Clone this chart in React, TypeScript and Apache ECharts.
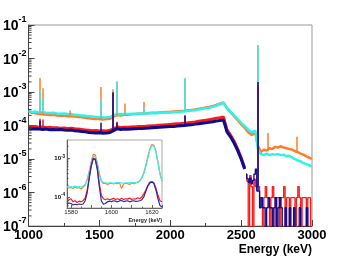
import React, { useEffect, useRef } from "react";
import * as echarts from "echarts";

// ---------- main spectrum: continuum grid 1000..2600 keV (25 keV steps) ----------
const contE: number[] = Array.from({ length: 65 }, (_, i) => 1000 + 25 * i);
const lowE: number[] = Array.from({ length: 62 }, (_, i) => 1000 + 25 * i); // 1000..2525
const upTailE: number[] = Array.from({ length: 20 }, (_, i) => 2620 + 20 * i); // 2620..3000
const lowTailE: number[] = Array.from({ length: 47 }, (_, i) => 2535 + 10 * i); // 2535..2995

const orangeCont = [
  2.6e-4, 2.4e-4, 2.3e-4, 2.2e-4, 2.15e-4, 2.1e-4, 2.05e-4, 2.1e-4, 2.0e-4, 1.95e-4,
  2.0e-4, 1.9e-4, 1.9e-4, 1.85e-4, 1.8e-4, 1.75e-4, 1.7e-4, 1.65e-4, 1.6e-4, 1.55e-4,
  1.55e-4, 1.5e-4, 1.55e-4, 1.6e-4, 1.85e-4, 2.05e-4, 2.0e-4, 2.1e-4, 2.1e-4, 2.15e-4,
  2.2e-4, 2.25e-4, 2.3e-4, 2.3e-4, 2.35e-4, 2.4e-4, 2.4e-4, 2.45e-4, 2.5e-4, 2.55e-4,
  2.55e-4, 2.6e-4, 2.65e-4, 2.7e-4, 2.75e-4, 2.85e-4, 2.9e-4, 3.0e-4, 3.15e-4, 3.25e-4,
  3.45e-4, 3.6e-4, 3.8e-4, 4.1e-4, 4.5e-4, 4.9e-4, 3.3e-4, 2.5e-4, 1.9e-4, 1.45e-4,
  1.1e-4, 8.5e-5, 6.3e-5, 5.2e-5, 6.0e-5,
];
const cyanCont = [
  2.7e-4, 2.55e-4, 2.6e-4, 2.45e-4, 2.5e-4, 2.4e-4, 2.35e-4, 2.4e-4, 2.3e-4, 2.25e-4,
  2.3e-4, 2.2e-4, 2.15e-4, 2.1e-4, 2.05e-4, 2.0e-4, 1.95e-4, 1.9e-4, 1.85e-4, 1.8e-4,
  1.8e-4, 1.72e-4, 1.75e-4, 1.8e-4, 2.0e-4, 2.2e-4, 2.15e-4, 2.2e-4, 2.2e-4, 2.25e-4,
  2.2e-4, 2.3e-4, 2.25e-4, 2.3e-4, 2.3e-4, 2.35e-4, 2.3e-4, 2.4e-4, 2.4e-4, 2.45e-4,
  2.45e-4, 2.5e-4, 2.55e-4, 2.55e-4, 2.65e-4, 2.7e-4, 2.8e-4, 2.85e-4, 3.0e-4, 3.1e-4,
  3.3e-4, 3.4e-4, 3.6e-4, 3.9e-4, 4.3e-4, 4.7e-4, 3.3e-4, 2.6e-4, 2.0e-4, 1.55e-4,
  1.2e-4, 9.5e-5, 7.5e-5, 6.3e-5, 7.0e-5,
];
const orangeTail = [
  2.4e-5, 1.6e-5, 1.9e-5, 1.8e-5, 2.1e-5, 2.0e-5, 2.3e-5, 2.2e-5, 2.4e-5, 2.2e-5,
  2.1e-5, 2.0e-5, 1.9e-5, 1.7e-5, 1.6e-5, 1.45e-5, 1.35e-5, 1.2e-5, 1.1e-5, 1.0e-5,
];
const cyanTail = [
  1.8e-5, 1.4e-5, 1.3e-5, 1.45e-5, 1.3e-5, 1.4e-5, 1.35e-5, 1.4e-5, 1.3e-5, 1.35e-5,
  1.2e-5, 1.25e-5, 1.1e-5, 1.0e-5, 9e-6, 8.5e-6, 7.5e-6, 7e-6, 6.5e-6, 6e-6,
];
const redCont = [
  9.5e-5, 9.0e-5, 9.3e-5, 8.8e-5, 9.0e-5, 8.6e-5, 8.8e-5, 8.5e-5, 8.6e-5, 8.3e-5,
  8.4e-5, 8.2e-5, 8.3e-5, 8.0e-5, 7.8e-5, 7.6e-5, 7.4e-5, 7.2e-5, 7.0e-5, 7.1e-5,
  6.9e-5, 7.0e-5, 6.9e-5, 7.2e-5, 8.0e-5, 9.0e-5, 8.7e-5, 8.9e-5, 8.8e-5, 9.0e-5,
  9.1e-5, 9.3e-5, 9.4e-5, 9.5e-5, 9.7e-5, 9.9e-5, 1.0e-4, 1.02e-4, 1.04e-4, 1.06e-4,
  1.08e-4, 1.1e-4, 1.12e-4, 1.14e-4, 1.17e-4, 1.2e-4, 1.24e-4, 1.28e-4, 1.33e-4, 1.38e-4,
  1.43e-4, 1.5e-4, 1.57e-4, 1.65e-4, 1.72e-4, 1.8e-4, 7.5e-5, 5.2e-5, 3.4e-5, 2.0e-5,
  1.1e-5, 5.5e-6,
];
const navyCont = [
  8.2e-5, 7.8e-5, 8.0e-5, 7.9e-5, 7.6e-5, 7.8e-5, 7.5e-5, 7.6e-5, 7.4e-5, 7.6e-5,
  7.3e-5, 7.2e-5, 7.3e-5, 7.0e-5, 6.8e-5, 6.6e-5, 6.5e-5, 6.2e-5, 6.1e-5, 6.0e-5,
  6.1e-5, 5.9e-5, 6.0e-5, 6.2e-5, 7.0e-5, 8.0e-5, 7.6e-5, 7.8e-5, 7.7e-5, 7.9e-5,
  8.0e-5, 8.1e-5, 8.2e-5, 8.3e-5, 8.4e-5, 8.6e-5, 8.7e-5, 8.8e-5, 9.0e-5, 9.1e-5,
  9.3e-5, 9.4e-5, 9.6e-5, 9.8e-5, 1.0e-4, 1.03e-4, 1.06e-4, 1.1e-4, 1.13e-4, 1.17e-4,
  1.2e-4, 1.25e-4, 1.3e-4, 1.35e-4, 1.4e-4, 1.45e-4, 6.5e-5, 4.6e-5, 3.0e-5, 1.8e-5,
  1.0e-5, 5.0e-6,
];
const redTail = [
  3.5e-6, 2.2e-6, 0, 3.2e-6, 1.5e-6, 0, 2.5e-6, 1.5e-6, 1.5e-6, 1.5e-6,
  7e-7, 7e-7, 0, 7e-7, 1.5e-6, 7e-7, 7e-7, 0, 7e-7, 1.5e-6,
  7e-7, 0, 7e-7, 7e-7, 0, 7e-7, 7e-7, 1.5e-6, 0, 7e-7,
  7e-7, 0, 7e-7, 7e-7, 7e-7, 0, 7e-7, 1.5e-6, 7e-7, 0,
  7e-7, 7e-7, 7e-7, 0, 7e-7, 7e-7, 0,
];
const navyTail = [
  3.5e-6, 2.6e-6, 2.0e-6, 2.7e-6, 1.8e-6, 2.3e-6, 3.5e-6, 5e-6, 1.1e-6, 1.1e-6,
  3.5e-7, 7e-7, 3.5e-7, 3.5e-7, 0, 3.5e-7, 7e-7, 3.5e-7, 3.5e-7, 0,
  3.5e-7, 7e-7, 0, 3.5e-7, 7e-7, 3.5e-7, 0, 0, 3.5e-7, 0,
  0, 3.5e-7, 0, 0, 3.5e-7, 0, 0, 0, 3.5e-7, 0,
  0, 0, 0, 3.5e-7, 0, 0, 0,
];

// peaks: [energy keV, peak height]
const orangePeaks = [
  [1077, 2.6e-3], [1099, 1.3e-3], [1293, 2.8e-4], [1510, 1.4e-3], [1592, 1.2e-3],
  [1620, 2.0e-3], [1680, 4.5e-4], [1810, 5e-4], [2104, 2.5e-3], [2614, 2.5e-2],
  [2685, 6e-5], [2895, 4.6e-5],
];
const cyanPeaks = [
  [1077, 1.1e-3], [1099, 5.8e-4], [1510, 5.8e-4], [1592, 1.1e-3], [1620, 2.1e-3],
  [1680, 2.7e-4], [1810, 3.3e-4], [2104, 2.6e-3], [2614, 2.5e-2],
];
const redPeaks = [
  [1077, 1.6e-4], [1099, 1.5e-4], [1592, 1.0e-3], [1620, 1.3e-4], [2104, 2e-4], [2614, 1.6e-3],
];
const navyPeaks = [
  [1077, 1.4e-4], [1510, 1.2e-4], [1592, 9.5e-4], [1620, 1.2e-4], [2104, 2e-4], [2614, 2e-3],
];

// ---------- inset: 1578..1625 keV, 1 keV bins ----------
const insetE: number[] = Array.from({ length: 48 }, (_, i) => 1578 + i);
const insetOrange = [
  1.8e-4, 1.7e-4, 1.75e-4, 1.65e-4, 1.8e-4, 1.7e-4, 1.75e-4, 1.6e-4, 1.8e-4, 2.0e-4,
  2.9e-4, 4.5e-4, 8e-4, 1.25e-3, 1.2e-3, 7.5e-4, 4e-4, 2.5e-4, 2.2e-4, 2.25e-4,
  2.1e-4, 2.2e-4, 2.25e-4, 2.15e-4, 2.25e-4, 2.2e-4, 2.3e-4, 1.65e-4, 2.15e-4, 2.25e-4,
  2.2e-4, 2.1e-4, 2.25e-4, 2.2e-4, 2.3e-4, 2.35e-4, 2.6e-4, 3.1e-4, 4.2e-4, 6.5e-4,
  1.1e-3, 1.7e-3, 2.25e-3, 2.1e-3, 1.5e-3, 8e-4, 4e-4, 2.5e-4,
];
const insetCyan = [
  1.85e-4, 1.8e-4, 1.85e-4, 1.8e-4, 1.9e-4, 1.8e-4, 1.85e-4, 1.8e-4, 1.9e-4, 2.1e-4,
  2.7e-4, 4.2e-4, 7.5e-4, 1.15e-3, 1.1e-3, 7e-4, 3.8e-4, 2.6e-4, 2.35e-4, 2.3e-4,
  2.25e-4, 2.3e-4, 2.3e-4, 2.25e-4, 2.3e-4, 2.35e-4, 2.3e-4, 2.3e-4, 2.25e-4, 2.3e-4,
  2.3e-4, 2.35e-4, 2.3e-4, 2.3e-4, 2.35e-4, 2.4e-4, 2.6e-4, 3.0e-4, 4.0e-4, 6.0e-4,
  1.0e-3, 1.6e-3, 2.1e-3, 2.0e-3, 1.4e-3, 7.5e-4, 3.8e-4, 2.6e-4,
];
const insetRed = [
  7.5e-5, 8.5e-5, 9e-5, 7.5e-5, 8e-5, 7.2e-5, 7.8e-5, 7.5e-5, 8e-5, 9.5e-5,
  1.5e-4, 3.2e-4, 6.5e-4, 1.0e-3, 9.5e-4, 5.5e-4, 2.2e-4, 1.1e-4, 9e-5, 8.5e-5,
  9e-5, 8.5e-5, 8.8e-5, 9.2e-5, 8.6e-5, 9e-5, 8.5e-5, 9.2e-5, 8.6e-5, 9e-5,
  8.8e-5, 9.4e-5, 8.6e-5, 9e-5, 8.8e-5, 9.5e-5, 9e-5, 1.0e-4, 1.2e-4, 1.5e-4,
  2.0e-4, 2.4e-4, 2.5e-4, 2.3e-4, 1.7e-4, 1.1e-4, 8e-5, 7.5e-5,
];
const insetNavy = [
  6.5e-5, 7e-5, 6.8e-5, 6.2e-5, 6.5e-5, 6.3e-5, 6.6e-5, 6.4e-5, 6.6e-5, 8e-5,
  1.3e-4, 3e-4, 6.2e-4, 9.5e-4, 9e-4, 5e-4, 1.8e-4, 8e-5, 6.5e-5, 6.8e-5,
  7.5e-5, 7.8e-5, 7.6e-5, 8e-5, 7.8e-5, 7.5e-5, 7.9e-5, 8.1e-5, 7.6e-5, 7.8e-5,
  8e-5, 7.5e-5, 7.8e-5, 8e-5, 7.7e-5, 7.8e-5, 8e-5, 8.5e-5, 1.0e-4, 1.4e-4,
  1.9e-4, 2.3e-4, 2.4e-4, 2.2e-4, 1.5e-4, 9e-5, 6e-5, 5.5e-5,
];

// axis decorations
const mainDecades = [-7, -6, -5, -4, -3, -2];
const insetMinor = [6e-5, 7e-5, 8e-5, 9e-5, 2e-4, 3e-4, 4e-4, 5e-4, 6e-4, 7e-4, 8e-4, 9e-4, 2e-3];

const ORANGE = "#ff7d2a";
const CYAN = "#2ef2ee";
const RED = "#ff1818";
const NAVY = "#0c0c8e";
const FONT = "Liberation Sans";
const FLOOR = 1e-9; // empty bins (drawn down to the axis floor)

const pairs = (es: number[], vs: number[]) => es.map((e, i) => [e, vs[i] > 0 ? vs[i] : FLOOR]);

function nearest(data: number[][], e: number) {
  let best = data[0];
  for (const d of data) if (Math.abs(d[0] - e) < Math.abs(best[0] - e)) best = d;
  return best[1];
}

function peakLines(data: number[][], peaks: number[][], color: string) {
  return {
    silent: true,
    symbol: ["none", "none"],
    label: { show: false },
    emphasis: { disabled: true },
    lineStyle: { color, width: 1.5, type: "solid", opacity: 1 },
    data: peaks.map(([e, top]) => [{ coord: [e, nearest(data, e)] }, { coord: [e, top] }]),
  };
}

const isDecade = (v: number) => Math.abs(Math.log10(v) - Math.round(Math.log10(v))) < 1e-6;

export default function App() {
  const ref = useRef<HTMLDivElement>(null);
  useEffect(() => {
    if (!ref.current) return;
    const chart = echarts.init(ref.current, undefined, { renderer: "svg" });

    const orangeData = pairs(contE, orangeCont).concat(pairs(upTailE, orangeTail));
    const cyanData = pairs(contE, cyanCont).concat(pairs(upTailE, cyanTail));
    const redMain = pairs(lowE, redCont);
    const navyMain = pairs(lowE, navyCont);
    const redTailD = pairs(lowTailE, redTail);
    const navyTailD = pairs(lowTailE, navyTail);
    const redAll = redMain.concat(redTailD);
    const navyAll = navyMain.concat(navyTailD);

    const mainMinor: number[][] = [];
    for (const d of mainDecades) for (let k = 2; k <= 9; k++) mainMinor.push([1000, k * Math.pow(10, d)]);

    const tickSeries = (xi: number, data: number[][], len: number) => ({
      type: "custom",
      xAxisIndex: xi,
      yAxisIndex: xi,
      silent: true,
      clip: false,
      z: 5,
      data,
      renderItem: (_p: any, api: any) => {
        const p = api.coord([api.value(0), api.value(1)]);
        return {
          type: "line",
          shape: { x1: p[0], y1: p[1], x2: p[0] + len, y2: p[1] },
          style: { stroke: "#444", lineWidth: 1 },
        };
      },
    });

    const line = (name: string, data: number[][], color: string, width: number, xi: number, extra: any = {}) => ({
      name,
      type: "line",
      xAxisIndex: xi,
      yAxisIndex: xi,
      data,
      showSymbol: false,
      symbol: "none",
      silent: true,
      clip: true,
      lineStyle: { color, width },
      emphasis: { disabled: true },
      ...extra,
    });

    const supLabel = (size: number, sup: number) => ({
      b: { fontSize: size, fontWeight: "bold", fontFamily: FONT, color: "#000", lineHeight: size * 1.5 },
      s: { fontSize: sup, fontWeight: "bold", fontFamily: FONT, color: "#000", verticalAlign: "top", lineHeight: sup },
    });

    chart.setOption({
      animation: false,
      grid: [
        { left: 27, right: 38, top: 25, bottom: 32, show: true, borderColor: "#999", borderWidth: 1 },
        { left: 67, top: 140, width: 95, height: 68, show: true, borderColor: "#aaa", borderWidth: 1, backgroundColor: "#fff" },
      ],
      xAxis: [
        {
          gridIndex: 0, type: "value", min: 1000, max: 3000, interval: 500,
          axisLine: { onZero: false, lineStyle: { color: "#444", width: 1 } },
          axisTick: { inside: true, length: 6, lineStyle: { color: "#444" } },
          minorTick: { show: true, splitNumber: 2, length: 3, lineStyle: { color: "#444" } },
          splitLine: { show: false },
          axisLabel: {
            margin: 2, fontSize: 13, lineHeight: 13, fontWeight: "bold", color: "#000", fontFamily: FONT,
            formatter: (v: number) => String(Math.round(v)),
          },
        },
        {
          gridIndex: 1, type: "value", min: 1578, max: 1625, splitNumber: 5,
          axisLine: { onZero: false, lineStyle: { color: "#666", width: 1 } },
          axisTick: { inside: true, length: 3, lineStyle: { color: "#666" } },
          minorTick: { show: true, splitNumber: 2, length: 1.5, lineStyle: { color: "#666" } },
          splitLine: { show: false },
          axisLabel: {
            margin: 1, fontSize: 6, lineHeight: 6, color: "#222", fontFamily: FONT, showMinLabel: false, showMaxLabel: false,
            formatter: (v: number) => (Math.round(v) % 20 === 0 ? String(Math.round(v)) : ""),
          },
        },
      ],
      yAxis: [
        {
          gridIndex: 0, type: "log", logBase: 10, min: 1e-7, max: 1e-1,
          axisLine: { show: true, onZero: false, lineStyle: { color: "#444", width: 1 } },
          axisTick: { show: true, inside: true, length: 6, lineStyle: { color: "#444" } },
          splitLine: { show: false },
          axisLabel: {
            margin: 2,
            formatter: (v: number) => (isDecade(v) ? `{b|10}{s|${Math.round(Math.log10(v))}}` : ""),
            rich: supLabel(14, 9),
          },
        },
        {
          gridIndex: 1, type: "log", logBase: 10, min: 5.2e-5, max: 2.9e-3,
          axisLine: { show: true, onZero: false, lineStyle: { color: "#666", width: 1 } },
          axisTick: { show: true, inside: true, length: 3, lineStyle: { color: "#666" } },
          splitLine: { show: false },
          axisLabel: {
            margin: 2, showMinLabel: false, showMaxLabel: false,
            formatter: (v: number) => (isDecade(v) ? `{b|10}{s|${Math.round(Math.log10(v))}}` : ""),
            rich: supLabel(6, 4.5),
          },
        },
      ],
      series: [
        line("orange", orangeData, ORANGE, 2.5, 0, { markLine: peakLines(orangeData, orangePeaks, ORANGE) }),
        line("cyan", cyanData, CYAN, 2.5, 0, { markLine: peakLines(cyanData, cyanPeaks, CYAN) }),
        line("red", redMain, RED, 3, 0, { markLine: peakLines(redAll, redPeaks, RED) }),
        line("redTail", redTailD, RED, 1.3, 0, { step: "middle" }),
        line("navy", navyMain, NAVY, 3, 0, { markLine: peakLines(navyAll, navyPeaks, NAVY) }),
        line("navyTail", navyTailD, NAVY, 1.3, 0, { step: "middle" }),
        line("insetOrange", pairs(insetE, insetOrange), ORANGE, 1.2, 1),
        line("insetCyan", pairs(insetE, insetCyan), CYAN, 1.2, 1),
        line("insetRed", pairs(insetE, insetRed), RED, 1.2, 1),
        line("insetNavy", pairs(insetE, insetNavy), "#2a2ab0", 1.2, 1),
        tickSeries(0, mainMinor, 3),
        tickSeries(1, insetMinor.map((v) => [1578, v]), 1.5),
      ],
      graphic: [
        {
          type: "text", right: 38, top: 243,
          style: { text: "Energy (keV)", font: `bold 12px "${FONT}"`, fill: "#000" },
        },
        {
          type: "text", right: 188, top: 217,
          style: { text: "Energy (keV)", font: `bold 5.5px "${FONT}"`, fill: "#222" },
        },
      ],
    });
    return () => chart.dispose();
  }, []);
  return <div ref={ref} style={{ position: "fixed", left: 0, top: 0, width: 350, height: 258 }} />;
}
